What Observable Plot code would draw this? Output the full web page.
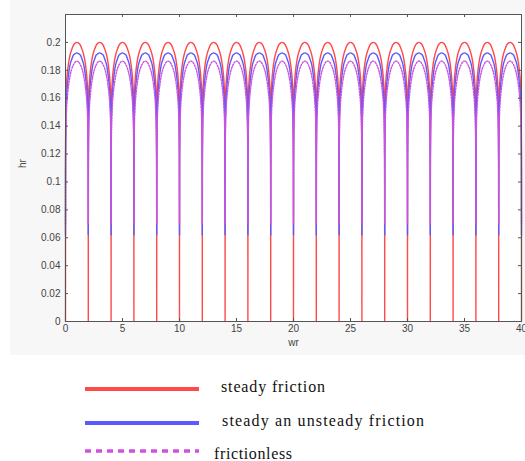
<!DOCTYPE html>
<html>
<head>
<meta charset="utf-8">
<script src="https://cdn.jsdelivr.net/npm/d3@7"></script>
<script src="https://cdn.jsdelivr.net/npm/@observablehq/plot@0.6"></script>
<style>
  html, body { margin: 0; padding: 0; background: white; }
  #wrap { position: relative; width: 525px; height: 461px; overflow: hidden; }
  #bg { position: absolute; left: 10px; top: 0; width: 515px; height: 355px; background: #f7f7f7; }
  #chart { position: absolute; left: 0; top: 0; }
  #legend { position: absolute; left: 0; top: 355px; }
</style>
</head>
<body>
<div id="wrap">
  <div id="bg"></div>
  <div id="chart"></div>
  <div id="legend"></div>
</div>
<script>
// Starting wr of each arch (period 2)
const archStarts = [0, 2, 4, 6, 8, 10, 12, 14, 16, 18, 20, 22, 24, 26, 28, 30, 32, 34, 36, 38];
// Distance from arch start (half arch, mirrored about the crest)
const halfOffsets = [0, 0.005, 0.02, 0.05, 0.1, 0.2, 0.3, 0.4, 0.55, 0.7, 0.85, 1.0];
// hr values read along half an arch
const steadyHalf   = [0, 0.120, 0.145, 0.163, 0.172, 0.181, 0.187, 0.191, 0.195, 0.198, 0.1995, 0.200];
const unsteadyHalf = [0.062, 0.110, 0.135, 0.152, 0.162, 0.172, 0.179, 0.184, 0.188, 0.191, 0.192, 0.1925];
const frictionlessHalf = [0.070, 0.100, 0.125, 0.142, 0.153, 0.164, 0.171, 0.176, 0.181, 0.184, 0.186, 0.1866];

const xTicks = [0, 5, 10, 15, 20, 25, 30, 35, 40];
const yTicks = [0, 0.02, 0.04, 0.06, 0.08, 0.1, 0.12, 0.14, 0.16, 0.18, 0.2];

const seriesNames = ["steady friction", "steady an unsteady  friction", "frictionless"];
const seriesColors = ["#ff4a4a", "#5a5aff", "#d050e0"];

function buildSeries(half) {
  const pts = [];
  for (const s of archStarts) {
    for (let i = 0; i < halfOffsets.length; i++) pts.push({x: s + halfOffsets[i], y: half[i]});
    for (let i = halfOffsets.length - 2; i >= 0; i--) pts.push({x: s + 2 - halfOffsets[i], y: half[i]});
  }
  return pts;
}
const steady = buildSeries(steadyHalf);
const unsteady = buildSeries(unsteadyHalf);
const frictionless = buildSeries(frictionlessHalf);

const fmt = d => d === 0 ? "0" : String(+d.toFixed(2));

const W = 525, H = 355, ML = 65, MR = 4, MT = 14, MB = 34;
const fw = W - ML - MR, fh = H - MT - MB, tk = 3;
const axisColor = "#555", labelColor = "#444";

const chart = Plot.plot({
  width: W,
  height: H,
  marginLeft: ML,
  marginRight: MR,
  marginTop: MT,
  marginBottom: MB,
  style: {background: "transparent", fontFamily: "Liberation Sans, Arial, sans-serif", fontSize: "10px", color: labelColor},
  x: {domain: [0, 40], axis: null},
  y: {domain: [0, 0.22], axis: null},
  marks: [
    Plot.frame({fill: "white", stroke: null}),
    Plot.line(steady, {x: "x", y: "y", stroke: seriesColors[0], strokeWidth: 1.4, curve: "monotone-x"}),
    Plot.line(unsteady, {x: "x", y: "y", stroke: seriesColors[1], strokeWidth: 1.4, curve: "monotone-x"}),
    Plot.line(frictionless, {x: "x", y: "y", stroke: seriesColors[2], strokeWidth: 1.4, strokeDasharray: "1.5,1.5", curve: "monotone-x"}),
    Plot.frame({stroke: axisColor, strokeWidth: 1}),
    // inward ticks
    Plot.tickX(xTicks, {x: d => d, insetTop: fh - tk, stroke: axisColor}),
    Plot.tickX(xTicks, {x: d => d, insetBottom: fh - tk, stroke: axisColor}),
    Plot.tickY(yTicks, {y: d => d, insetRight: fw - tk, stroke: axisColor}),
    Plot.tickY(yTicks, {y: d => d, insetLeft: fw - tk, stroke: axisColor}),
    // tick labels
    Plot.text(xTicks, {x: d => d, text: fmt, frameAnchor: "bottom", dy: 10, fill: labelColor}),
    Plot.text(yTicks, {y: d => d, text: fmt, frameAnchor: "left", dx: -5, textAnchor: "end", fill: labelColor}),
    Plot.text(["hr"], {frameAnchor: "left", dx: -43, rotate: -90, fill: labelColor}),
    Plot.text(["wr"], {frameAnchor: "bottom", dy: 24, fill: labelColor})
  ]
});
document.getElementById("chart").appendChild(chart);

// Legend
const lg = d3.select("#legend").append("svg").attr("width", 525).attr("height", 106);
const rows = [
  {y: 34, ty: 37, tx: 221, tl: 104, dash: null, w: 4},
  {y: 68, ty: 71, tx: 222, tl: 202, dash: null, w: 4},
  {y: 96, ty: 104, tx: 214, tl: 78, dash: "6,5", w: 3.5}
];
rows.forEach((r, i) => {
  lg.append("line").attr("x1", 85).attr("x2", 199).attr("y1", r.y).attr("y2", r.y)
    .attr("stroke", seriesColors[i]).attr("stroke-width", r.w).attr("stroke-dasharray", r.dash);
  lg.append("text").attr("x", r.tx).attr("y", r.ty).attr("textLength", r.tl)
    .attr("font-family", "Liberation Serif, Times New Roman, serif").attr("font-size", 16)
    .attr("fill", "#111").text(seriesNames[i]);
});
</script>
</body>
</html>
